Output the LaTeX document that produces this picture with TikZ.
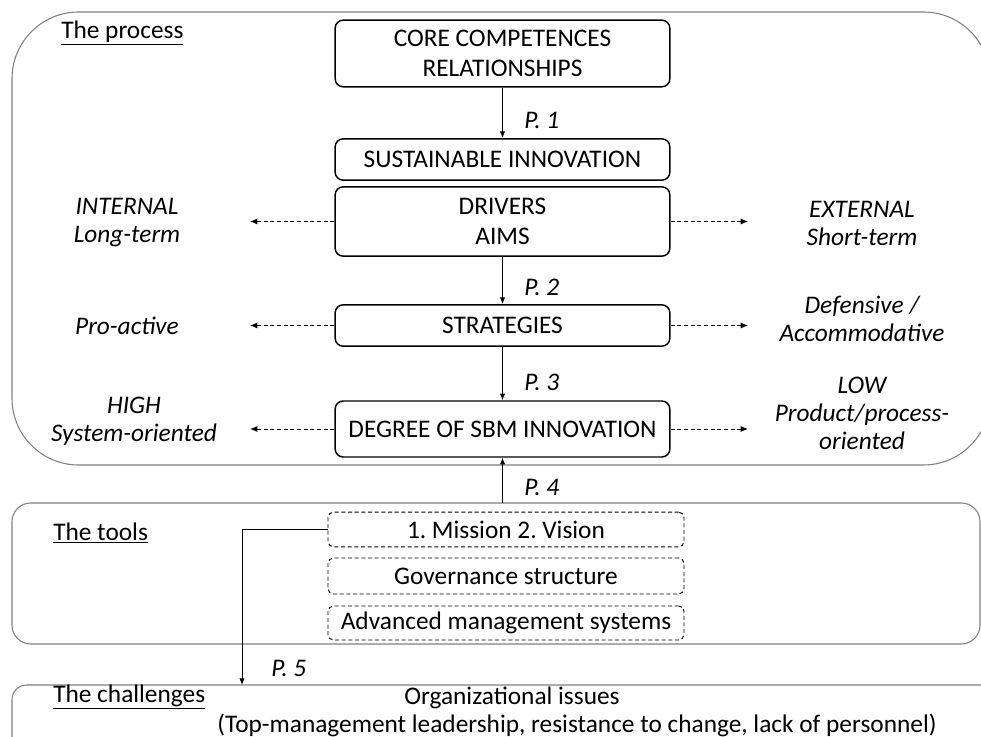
\documentclass[tikz,border=0pt]{standalone}
\usepackage{fontspec}
\setmainfont{Carlito}
\usetikzlibrary{arrows.meta}
\frenchspacing
\begin{document}
\begin{tikzpicture}[x=0.75pt,y=-0.75pt,
  every node/.style={font=\fontsize{19}{22.5}\selectfont, inner sep=0pt},
  outerbox/.style={draw=black!50, line width=0.8pt},
  stagebox/.style={draw=black, line width=1.1pt, rounded corners=6pt, align=center, minimum width=251pt},
  toolbox/.style={draw=black, line width=0.7pt, dash pattern=on 3pt off 2pt, rounded corners=4pt, align=center, minimum width=267pt},
  flow/.style={draw=black, line width=0.7pt, -{Latex[length=5pt,width=4pt]}},
  side/.style={draw=black, line width=0.7pt, dash pattern=on 3pt off 2pt, -{Latex[length=5.5pt,width=4.5pt]}},
  lab/.style={font=\fontsize{19}{21}\selectfont\itshape, align=center},
  plab/.style={font=\fontsize{19}{21}\selectfont\itshape, anchor=west}
]
\useasboundingbox (0,0) rectangle (981,737);
\begin{scope}
\clip (0,0) rectangle (981,737);
\draw[outerbox, rounded corners=50pt] (12,12) rectangle (990,465);
\draw[outerbox, rounded corners=14pt] (12,503) rectangle (980,644);
\draw[outerbox, rounded corners=11pt] (12,685) rectangle (1000,770);
\end{scope}

% section titles
\node[anchor=west] (tp) at (61,33) {\underline{The process}};
\node[anchor=west] (tt) at (53,533) {\underline{The tools}};
\node[anchor=west] (tc) at (53,697) {\underline{The challenges}};

% process boxes
\node[stagebox, minimum height=50pt] (core) at (502.5,53.5) {CORE COMPETENCES\\RELATIONSHIPS};
\node[stagebox, minimum height=31pt] (sust) at (502.5,159.5) {SUSTAINABLE INNOVATION};
\node[stagebox, minimum height=52pt] (drv) at (502.5,221.5) {DRIVERS\\AIMS};
\node[stagebox, minimum height=31pt] (str) at (502.5,325.5) {STRATEGIES};
\node[stagebox, minimum height=42pt] (deg) at (502.5,429) {DEGREE OF SBM INNOVATION};

% tool boxes
\node[toolbox, minimum height=26pt] (mis) at (506,529.5) {1. Mission 2. Vision};
\node[toolbox, minimum height=27pt] (gov) at (506,576) {Governance structure};
\node[toolbox, minimum height=25.5pt] (adv) at (506,623) {Advanced management systems};

% challenges text
\node (org) at (512,698) {Organizational issues};
\node (topm) at (577,725) {(Top-management leadership, resistance to change, lack of personnel)};

% side labels
\node[lab] (int) at (127,223) {INTERNAL\\Long-term};
\node[lab] (ext) at (862,223) {EXTERNAL\\Short-term};
\node[lab] (pro) at (127,326) {Pro-active};
\node[lab] (def) at (862,319) {Defensive /\\Accommodative};
\node[lab] (high) at (134,421) {HIGH\\System-oriented};
\node[lab] (low) at (862,413) {LOW\\Product/process-\\oriented};

% coordinates
\coordinate (ldrv) at (250,221.5);
\coordinate (rdrv) at (748,221.5);
\coordinate (lstr) at (250,325.5);
\coordinate (rstr) at (748,325.5);
\coordinate (ldeg) at (250,429);
\coordinate (rdeg) at (748,429);
\coordinate (t4) at (502.5,503);
\coordinate (c5) at (242,685);

% main flow
\draw[flow] (core) -- (sust);
\draw[flow] (drv) -- (str);
\draw[flow] (str) -- (deg);
\draw[flow] (t4) -- (deg);
\draw[flow] (mis.west) -| (c5);

\node[plab] (p1) at (524,120) {P. 1};
\node[plab] (p2) at (524,287) {P. 2};
\node[plab] (p3) at (524,382) {P. 3};
\node[plab] (p4) at (524,487) {P. 4};
\node[plab] (p5) at (271,668) {P. 5};

% side arrows
\draw[side] (drv.west) -- (ldrv);
\draw[side] (drv.east) -- (rdrv);
\draw[side] (str.west) -- (lstr);
\draw[side] (str.east) -- (rstr);
\draw[side] (deg.west) -- (ldeg);
\draw[side] (deg.east) -- (rdeg);
\end{tikzpicture}
\end{document}
